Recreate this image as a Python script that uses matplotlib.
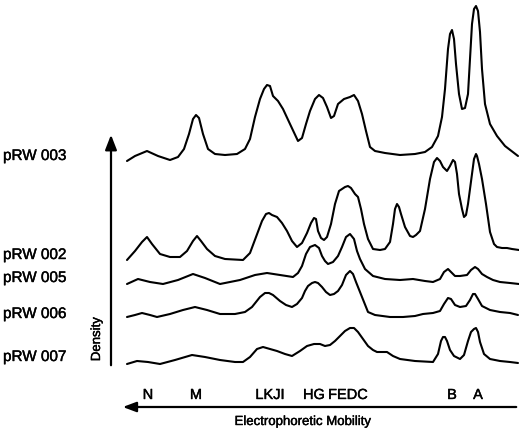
import numpy as np
import matplotlib
matplotlib.use("Agg")
import matplotlib.pyplot as plt
import matplotlib.patheffects as pe

plt.rcParams['font.family'] = ['Liberation Sans', 'DejaVu Sans']

# ---- traces: mobility position and density above each baseline ----
x_003 = [127, 135, 147, 158, 170, 178, 184, 189, 193, 196, 199, 203, 208, 215, 225, 237, 245, 250, 255, 260,
         264, 267, 270, 273, 278, 283, 290, 298, 302, 306, 310, 315, 319, 323, 327, 331, 334, 338, 344, 350,
         354, 358, 362, 366, 370, 375, 385, 400, 415, 425, 432, 438, 442, 445, 448, 450, 452, 454, 456, 459,
         462, 465, 468, 470, 472, 474, 476, 478, 480, 482, 485, 490, 497, 505, 518]
d_003 = [-2, 3, 8, 3, -1, 2, 10, 25, 40, 44, 41, 25, 10, 5, 4, 5, 10, 20, 42, 60,
         70, 74, 73, 63, 58, 50, 35, 18, 21, 35, 48, 60, 64, 61, 52, 41, 43, 55, 60, 62,
         64, 58, 45, 28, 12, 8, 6, 4, 5, 7, 12, 23, 42, 70, 110, 125, 129, 120, 95, 65,
         50, 51, 65, 100, 135, 150, 153, 148, 127, 90, 55, 35, 23, 13, 3]

x_002 = [127, 135, 142, 147, 152, 160, 170, 180, 187, 193, 197, 201, 207, 215, 225, 243, 250, 256, 262, 266,
         269, 272, 277, 282, 287, 292, 297, 302, 307, 311, 314, 316, 318, 321, 324, 327, 331, 335, 339, 342,
         345, 348, 351, 355, 358, 361, 364, 368, 373, 380, 385, 390, 393, 395, 397, 399, 401, 405, 410, 413,
         416, 420, 425, 430, 434, 437, 440, 443, 447, 450, 453, 455, 457, 459, 462, 464, 466, 468, 470, 472,
         474, 476, 477, 479, 482, 486, 490, 494, 497, 502, 507, 512, 519]
d_002 = [-6, 3, 12, 17, 10, 0, -3, -3, 3, 13, 18, 13, 5, -2, -5, -6, 1, 17, 33, 40,
         41, 39, 37, 31, 23, 13, 7, 11, 21, 31, 36, 35, 23, 16, 14, 17, 30, 50, 63, 65,
         67, 68, 66, 60, 57, 45, 30, 15, 5, 4, 5, 12, 30, 45, 50, 47, 40, 27, 18, 17,
         19, 23, 45, 75, 92, 96, 93, 87, 83, 88, 94, 92, 80, 60, 45, 37, 39, 50, 65, 80,
         95, 100, 98, 90, 75, 50, 22, 10, 7, 6, 6, 5, 4]

x_005 = [127, 138, 150, 163, 178, 193, 205, 220, 240, 255, 267, 280, 293, 298, 302, 306, 310, 315, 319, 322,
         325, 328, 333, 338, 342, 346, 350, 354, 357, 360, 365, 373, 385, 400, 413, 425, 433, 440, 444, 448,
         451, 455, 460, 467, 471, 475, 478, 482, 487, 493, 500, 510, 519]
d_005 = [0, 5, 2, 0, 4, 10, 6, 0, 4, 9, 11, 9, 7, 11, 18, 30, 37, 39, 36, 28,
         23, 20, 22, 28, 37, 47, 50, 45, 33, 25, 15, 8, 5, 4, 5, 3, 2, 5, 12, 15,
         12, 8, 8, 9, 14, 17, 15, 10, 7, 4, 2, 1, 0]

x_006 = [127, 135, 142, 150, 157, 170, 183, 195, 207, 220, 235, 245, 252, 260, 265, 269, 273, 280, 286, 292,
         297, 302, 305, 308, 312, 315, 318, 322, 326, 330, 334, 338, 342, 346, 350, 353, 356, 360, 364, 368,
         375, 390, 403, 415, 423, 433, 440, 444, 448, 451, 455, 460, 466, 470, 473, 475, 478, 482, 490, 500,
         510, 518]
d_006 = [0, 2, 4, 2, 0, 3, 7, 10, 7, 3, 3, 5, 10, 20, 24, 24, 22, 16, 12, 10,
         13, 19, 26, 31, 34, 35, 34, 30, 25, 22, 23, 26, 32, 42, 46, 43, 35, 25, 15, 5,
         2, 0, 0, 1, 3, 4, 6, 13, 19, 18, 12, 10, 11, 17, 23, 23, 18, 11, 7, 5,
         4, 2]

x_007 = [127, 137, 148, 160, 175, 192, 205, 220, 235, 243, 250, 257, 263, 270, 277, 285, 292, 300, 307, 314,
         320, 325, 330, 335, 340, 345, 350, 354, 358, 363, 368, 373, 377, 383, 387, 393, 400, 415, 433, 438,
         441, 443, 445, 447, 450, 454, 460, 464, 468, 471, 474, 476, 478, 480, 484, 490, 500, 510, 518]
d_007 = [0, 3, 2, 0, 4, 9, 7, 4, 2, 2, 7, 15, 17, 15, 13, 10, 8, 13, 18, 20,
         20, 18, 19, 23, 28, 33, 36, 36, 32, 25, 18, 14, 12, 12, 12, 8, 5, 3, 2, 10,
         23, 27, 27, 23, 14, 8, 5, 9, 23, 32, 35, 36, 32, 22, 10, 5, 3, 2, 1]

samples = ['pRW 003', 'pRW 002', 'pRW 005', 'pRW 006', 'pRW 007']
baselines = [160, 255, 285, 318, 365]
label_y = [157, 256, 279, 315, 358]

bands = ['N', 'M', 'LKJI', 'HG', 'FEDC', 'B', 'A']
band_x = [148, 196, 270, 314, 348, 452, 478]

traces = [(x_003, d_003), (x_002, d_002), (x_005, d_005), (x_006, d_006), (x_007, d_007)]

fig = plt.figure(figsize=(5.19, 4.35), dpi=100)
ax = fig.add_axes([0, 0, 1, 1])
ax.set_xlim(0, 519)
ax.set_ylim(435, 0)
ax.axis('off')

for (xs, ds), base in zip(traces, baselines):
    ax.plot(xs, base - np.array(ds), color='black', lw=1.5,
            solid_capstyle='round', solid_joinstyle='round')

# thicken the type a little, like the scanned original
heavy = [pe.withStroke(linewidth=0.3, foreground='black')]

for name, y in zip(samples, label_y):
    ax.text(3, y, name, fontsize=11, ha='left', va='center', path_effects=heavy)

# density axis (arrow up)
ax.annotate('', xy=(111, 133), xytext=(111, 369),
            arrowprops=dict(arrowstyle='-|>,head_width=0.35,head_length=0.9', color='black', lw=1.6))
ax.text(97, 340, 'Density', rotation=90, fontsize=9.5, ha='center', va='center', path_effects=heavy)

# mobility axis (arrow left)
ax.annotate('', xy=(120, 408), xytext=(519, 408),
            arrowprops=dict(arrowstyle='-|>,head_width=0.3,head_length=0.8', color='black', lw=1.6))
for b, x in zip(bands, band_x):
    ax.text(x, 396, b, fontsize=10.5, ha='center', va='center', path_effects=heavy)
ax.text(303, 423, 'Electrophoretic Mobility', fontsize=9.5, ha='center', va='center', path_effects=heavy)

fig.savefig('out.png', dpi=100)
